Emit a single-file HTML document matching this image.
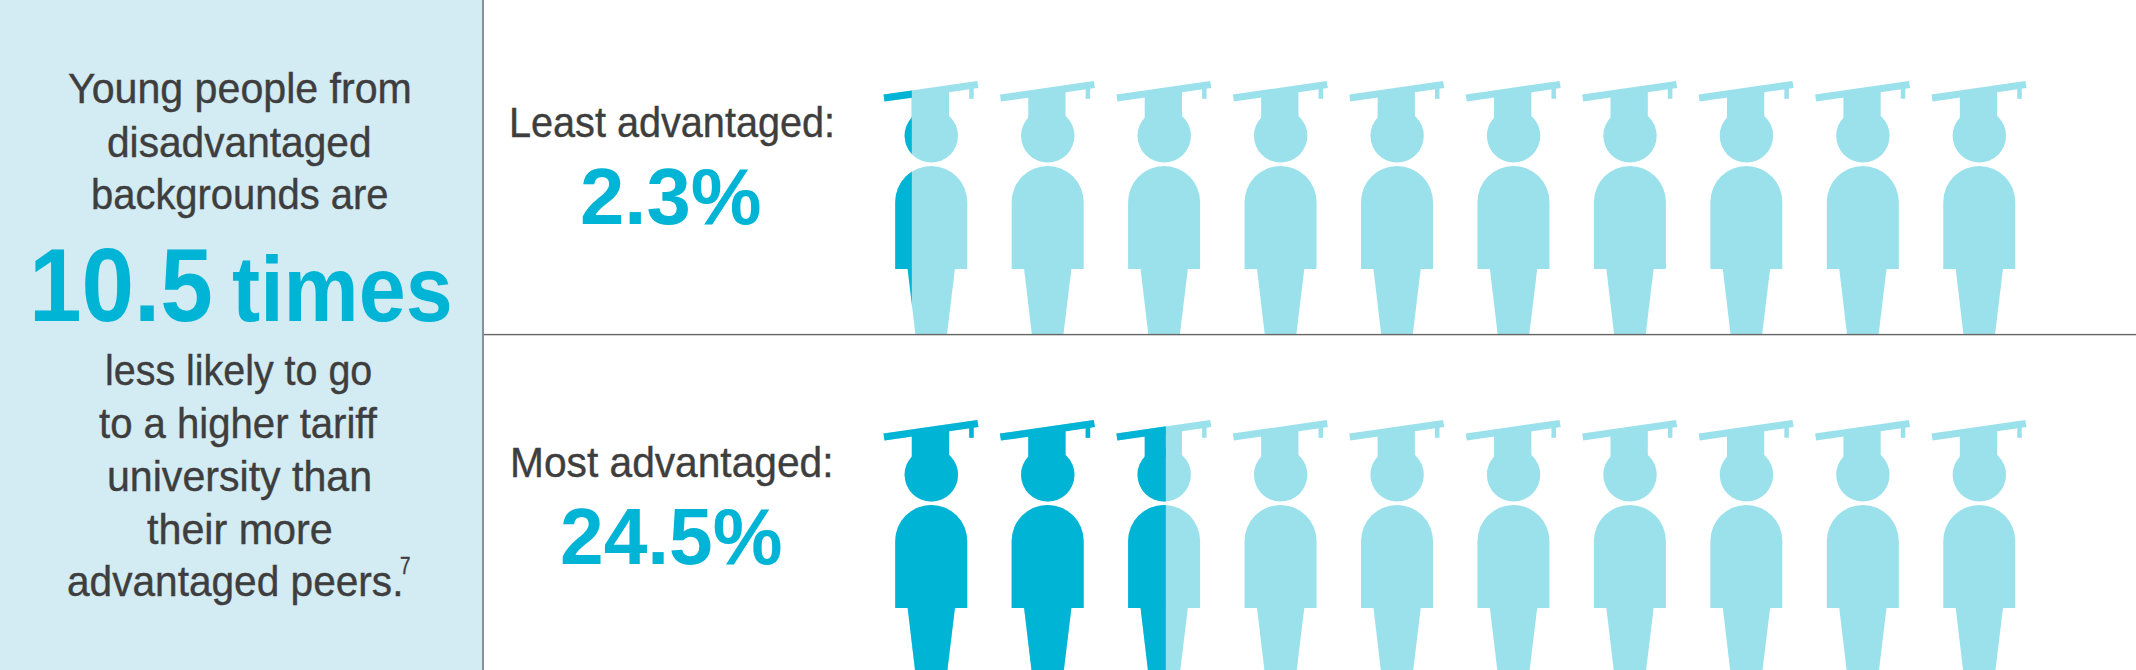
<!DOCTYPE html>
<html>
<head>
<meta charset="utf-8">
<style>
html,body{margin:0;padding:0;background:#fff;}
body{width:2136px;height:670px;position:relative;overflow:hidden;font-family:"Liberation Sans",sans-serif;}
#panel{position:absolute;left:0;top:0;width:483px;height:670px;background:#d3ebf3;}
.t{position:absolute;white-space:nowrap;color:#3e3e3e;font-size:43px;line-height:1;transform-origin:0 0;-webkit-text-stroke:0.4px #3e3e3e;}
.b{font-weight:bold;color:#00b4d5;-webkit-text-stroke:0;}
svg{position:absolute;left:0;top:0;}
/*POS*/
#l1{left:67.80px;top:67.30px;font-size:43px;transform:scaleX(0.9568);}
#l2{left:107.35px;top:120.60px;font-size:43px;transform:scaleX(0.9458);}
#l3{left:91.24px;top:173.40px;font-size:43px;transform:scaleX(0.9286);}
#big1{left:29.25px;top:232.70px;font-size:104px;transform:scaleX(0.9087);}
#big2{left:231.88px;top:242.70px;font-size:92px;transform:scaleX(0.9184);}
#l4{left:105.47px;top:348.90px;font-size:43px;transform:scaleX(0.9167);}
#l5{left:99.30px;top:401.60px;font-size:43px;transform:scaleX(0.9326);}
#l6{left:106.59px;top:454.70px;font-size:43px;transform:scaleX(0.9560);}
#l7{left:147.00px;top:507.80px;font-size:43px;transform:scaleX(0.9596);}
#l8{left:66.66px;top:560.10px;font-size:43px;transform:scaleX(0.9444);}
#sup{left:400.22px;top:554.20px;font-size:24px;transform:scaleX(0.7833);}
#m1{left:508.84px;top:101.40px;font-size:43px;transform:scaleX(0.9215);}
#p1{left:580.21px;top:156.50px;font-size:80px;transform:scaleX(0.9949);}
#m2{left:509.66px;top:441.40px;font-size:43px;transform:scaleX(0.9464);}
#p2{left:559.84px;top:496.50px;font-size:80px;transform:scaleX(0.9808);}
/*ENDPOS*/
</style>
</head>
<body>
<div id="panel"></div>
<svg width="2136" height="670" viewBox="0 0 2136 670">
<defs>
<g id="fig">
<polygon points="883.5,94.5 977.3,81 978.5,88.1 884.5,101.6"/>
<rect x="969.2" y="86" width="4.5" height="12.8"/>
<polygon points="911.8,95 949.1,89.5 949.1,118 911.8,118"/>
<circle cx="931.3" cy="135.8" r="26.7"/>
<path d="M895.2,269 V202 A36,36 0 0 1 967.2,202 V269 Z"/>
<polygon points="907.6,268.5 955,268.5 946.8,336 915.6,336"/>
</g>
<g id="row">
<use href="#fig" x="0"/><use href="#fig" x="116.45"/><use href="#fig" x="232.9"/><use href="#fig" x="349.35"/><use href="#fig" x="465.8"/><use href="#fig" x="582.25"/><use href="#fig" x="698.7"/><use href="#fig" x="815.15"/><use href="#fig" x="931.6"/><use href="#fig" x="1048.05"/>
</g>
<clipPath id="c1"><rect x="860" y="0" width="51.8" height="334"/></clipPath>
<clipPath id="c2"><rect x="860" y="336" width="305.8" height="340"/></clipPath>
<clipPath id="ctop"><rect x="860" y="0" width="1276" height="334"/></clipPath>
</defs>
<g clip-path="url(#ctop)"><use href="#row" fill="#9be1ec"/></g>
<g clip-path="url(#c1)"><use href="#row" fill="#00b4d5"/></g>
<use href="#row" y="339" fill="#9be1ec"/>
<g clip-path="url(#c2)"><use href="#row" y="339" fill="#00b4d5"/></g>
<rect x="482" y="0" width="2" height="670" fill="#879096"/>
<rect x="484" y="333.9" width="1652" height="1.4" fill="#666"/>
</svg>

<div class="t" id="l1">Young people from</div>
<div class="t" id="l2">disadvantaged</div>
<div class="t" id="l3">backgrounds are</div>
<div class="t b" id="big1">10.5</div>
<div class="t b" id="big2">times</div>
<div class="t" id="l4">less likely to go</div>
<div class="t" id="l5">to a higher tariff</div>
<div class="t" id="l6">university than</div>
<div class="t" id="l7">their more</div>
<div class="t" id="l8">advantaged peers.</div>
<div class="t" id="sup">7</div>
<div class="t" id="m1">Least advantaged:</div>
<div class="t b" id="p1">2.3%</div>
<div class="t" id="m2">Most advantaged:</div>
<div class="t b" id="p2">24.5%</div>
</body>
</html>
